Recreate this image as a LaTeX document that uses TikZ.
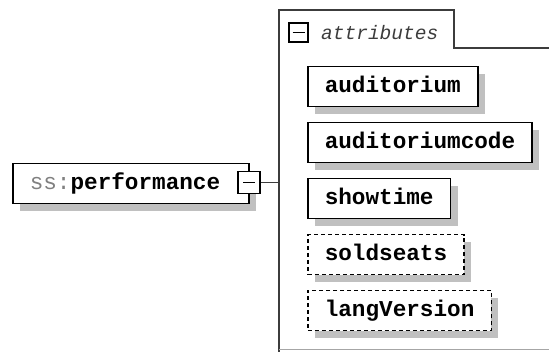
\documentclass[tikz,border=0pt]{standalone}
\usepackage{fontspec}
\usetikzlibrary{shadows}
\newfontfamily\monofont{Liberation Mono}
\definecolor{shadowgray}{RGB}{192,192,192}
\definecolor{linegray}{RGB}{60,60,60}
\definecolor{prefixgray}{RGB}{128,128,128}
\begin{document}
\begin{tikzpicture}[x=1pt,y=-1pt,
  elbox/.style={draw=black, line width=1.5pt, fill=white, minimum height=40pt,
    inner xsep=17pt, inner ysep=0pt, text height=12pt, text depth=0pt,
    anchor=north west, font=\monofont\fontsize{22.67pt}{24pt}\selectfont\bfseries,
    drop shadow={shadow xshift=7pt, shadow yshift=-7pt, fill=shadowgray, opacity=1}},
  optbox/.style={elbox, dash pattern=on 4pt off 3pt},
  minusbox/.style={draw=black, line width=1.8pt, fill=white, inner sep=0pt,
    path picture={\draw[black, line width=1.5pt]
      ([xshift=-6pt]path picture bounding box.center) --
      ([xshift=6pt]path picture bounding box.center);}},
  frame/.style={draw=linegray, line width=1.5pt}]
\useasboundingbox (0,0) rectangle (549,352);

% container of attributes
\coordinate (cBot) at (279,352);
\coordinate (cTop) at (279,10);
\coordinate (cTabR) at (454,10);
\coordinate (cTabB) at (454,48);
\coordinate (cRight) at (549,48);
\coordinate (cFootL) at (279,350);
\coordinate (cFootR) at (549,350);
\draw[frame] (cBot) -- (cTop) -- (cTabR) -- (cTabB) -- (cRight);
\draw[gray!70, line width=1pt] (cFootL) -- (cFootR);

\node[minusbox, minimum width=19pt, minimum height=19pt] (attrminus) at (298.5,32.5) {};
\node[anchor=west, inner sep=0pt, text=linegray,
  font=\monofont\fontsize{19.5pt}{21pt}\selectfont\itshape] (attrlabel) at (321,32.5) {attributes};

% main element
\node[elbox, text width=202pt, align=left] (main) at (12,163)
  {\textcolor{prefixgray}{\mdseries ss:}performance};
\node[minusbox, minimum width=22pt, minimum height=22pt] (mainminus) at (249,182.5) {};
\draw[frame] (mainminus.east) -- (mainminus.east -| cTop);

% attributes
\node[elbox] (auditorium) at (307,66) {auditorium};
\node[elbox] (auditoriumcode) at (307,122) {auditoriumcode};
\node[elbox] (showtime) at (307,178) {showtime};
\node[optbox] (soldseats) at (307,234) {soldseats};
\node[optbox] (langVersion) at (307,290) {langVersion};
\end{tikzpicture}
\end{document}
